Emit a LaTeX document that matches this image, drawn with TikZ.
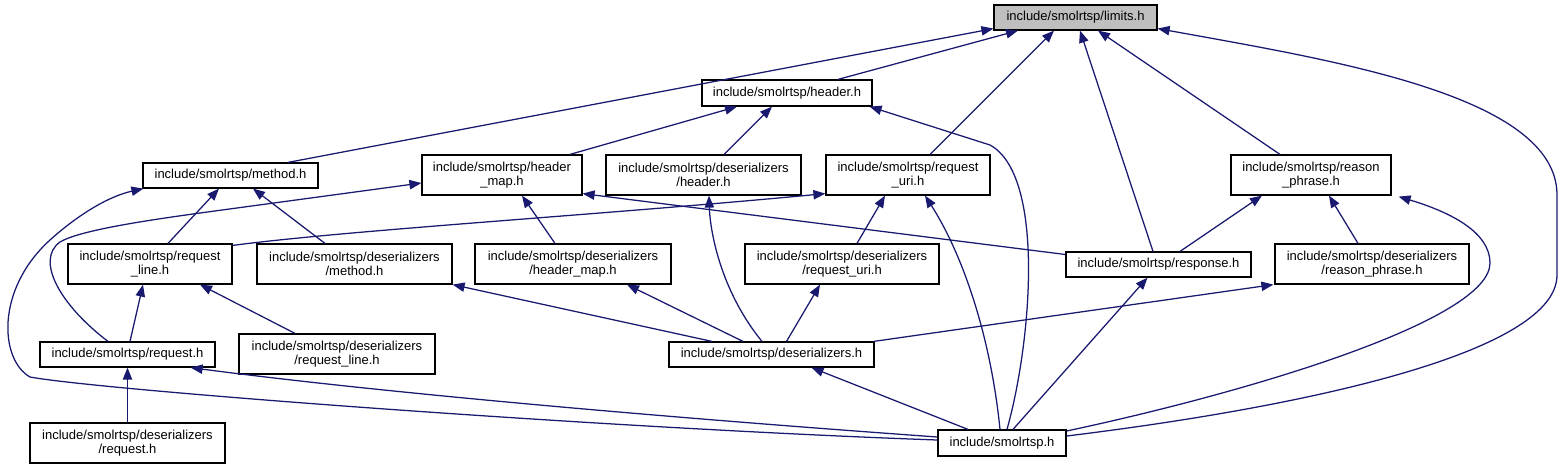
\documentclass[tikz,border=0pt]{standalone}
\usepackage{fontspec}
\setmainfont{Liberation Sans}
\usetikzlibrary{arrows.meta,calc}
\definecolor{edgeblue}{HTML}{191970}
\definecolor{rootgray}{HTML}{BFBFBF}
\begin{document}
\begin{tikzpicture}[x=0.75pt,y=-0.75pt,
  box/.style={draw=black,line width=0.9pt,fill=white,inner sep=0pt,align=center,
    font=\fontsize{9.75}{10.5}\selectfont},
  dep/.style={draw=edgeblue,line width=0.95pt,-{Triangle[length=9pt,width=7pt]}}]
\useasboundingbox (0,0) rectangle (1564,469);
% nodes (centre in px, size in pt = px*0.75)
\node[box,fill=rootgray,minimum width=122.25pt,minimum height=18.75pt] (limits) at (1075.5,17.5) {include/smolrtsp/limits.h};
\node[box,minimum width=127.5pt,minimum height=19.5pt] (header) at (787,93) {include/smolrtsp/header.h};
\node[box,minimum width=131.25pt,minimum height=18.75pt] (method) at (230.5,175.5) {include/smolrtsp/method.h};
\node[box,minimum width=120pt,minimum height=30pt] (hmap) at (502,175) {include/smolrtsp/header\\\_map.h};
\node[box,minimum width=146.25pt,minimum height=30pt] (dheader) at (703.5,175) {include/smolrtsp/deserializers\\/header.h};
\node[box,minimum width=123pt,minimum height=30pt] (ruri) at (908,175) {include/smolrtsp/request\\\_uri.h};
\node[box,minimum width=120pt,minimum height=30pt] (rphrase) at (1311,175) {include/smolrtsp/reason\\\_phrase.h};
\node[box,minimum width=123pt,minimum height=30pt] (rline) at (150,264) {include/smolrtsp/request\\\_line.h};
\node[box,minimum width=146.25pt,minimum height=30pt] (dmethod) at (354.5,264) {include/smolrtsp/deserializers\\/method.h};
\node[box,minimum width=147pt,minimum height=30pt] (dhmap) at (573,264) {include/smolrtsp/deserializers\\/header\_map.h};
\node[box,minimum width=145.5pt,minimum height=30pt] (druri) at (842,264) {include/smolrtsp/deserializers\\/request\_uri.h};
\node[box,minimum width=138.75pt,minimum height=18.75pt] (resp) at (1158.5,264.5) {include/smolrtsp/response.h};
\node[box,minimum width=145.5pt,minimum height=30pt] (drphrase) at (1372,264) {include/smolrtsp/deserializers\\/reason\_phrase.h};
\node[box,minimum width=131.25pt,minimum height=18.75pt] (req) at (127.5,354.5) {include/smolrtsp/request.h};
\node[box,minimum width=147pt,minimum height=30pt] (drline) at (337,354) {include/smolrtsp/deserializers\\/request\_line.h};
\node[box,minimum width=153.75pt,minimum height=18.75pt] (deser) at (771.5,354.5) {include/smolrtsp/deserializers.h};
\node[box,minimum width=146.25pt,minimum height=30pt] (dreq) at (127.5,443) {include/smolrtsp/deserializers\\/request.h};
\node[box,minimum width=96pt,minimum height=19.5pt] (smol) at (1002,443) {include/smolrtsp.h};
% edges to limits
\draw[dep] ($(method.north)+(57.5,0)$) -- ($(limits.south west)+(0,-2)$);
\draw[dep] ($(header.north)+(51,0)$) -- ($(limits.south)+(-57.5,0)$);
\draw[dep] ($(ruri.north)+(22,0)$) -- ($(limits.south)+(-21.5,0)$);
\draw[dep] ($(resp.north)+(-5.5,0)$) -- ($(limits.south)+(4.5,0)$);
\draw[dep] ($(rphrase.north)+(-31,0)$) -- ($(limits.south)+(22.5,0)$);
\draw[dep] ($(smol.east)+(0,-7)$) .. controls (1320,405) and (1557,350) .. (1557,275) -- (1557,195) .. controls (1557,95) and (1330,60) .. ($(limits.east)+(0,11)$);
% edges to header
\draw[dep] ($(hmap.north)+(68,0)$) -- ($(header.south)+(-50,0)$);
\draw[dep] ($(dheader.north)+(20.5,0)$) -- ($(header.south)+(-15,0)$);
\draw[dep] ($(smol.north)+(5,0)$) .. controls (1032,340) and (1045,175) .. (990,145) -- ($(header.south east)+(-3,0)$);
% edges to method
\draw[dep] ($(smol.west)+(0,-3)$) .. controls (600,428) and (100,390) .. (30,377) .. controls (0,360) and (-5,290) .. (50,240) .. controls (80,213) and (110,196) .. ($(method.south west)+(1,0)$);
\draw[dep] ($(rline.north)+(18,0)$) -- ($(method.south)+(-11.5,0)$);
\draw[dep] ($(dmethod.north)+(-29.5,0)$) -- ($(method.south)+(22.5,0)$);
% edges to header_map
\draw[dep] ($(req.north)+(-19.5,0)$) .. controls (60,305) and (35,260) .. (60,242) .. controls (80,230) and (150,220) .. (200,213) -- ($(hmap.west)+(0,8)$);
\draw[dep] ($(resp.west)+(0,-10)$) -- ($(hmap.south east)+(0,-2)$);
\draw[dep] ($(dhmap.north)+(-18,0)$) -- ($(hmap.south)+(20,0)$);
% edges to request_uri
\draw[dep] ($(rline.north east)+(0,2)$) .. controls (350,230) and (600,215) .. ($(ruri.south west)+(0,-2)$);
\draw[dep] ($(druri.north)+(15,0)$) -- ($(ruri.south)+(-23,0)$);
\draw[dep] ($(smol.north)+(-2,0)$) .. controls (990,330) and (960,250) .. ($(ruri.south)+(17,0)$);
% edges to reason_phrase
\draw[dep] ($(resp.north)+(21.5,0)$) -- ($(rphrase.south)+(-49,0)$);
\draw[dep] ($(drphrase.north)+(-14,0)$) -- ($(rphrase.south)+(18,0)$);
\draw[dep] ($(smol.east)+(0,-12)$) .. controls (1250,392) and (1490,320) .. (1490,263) .. controls (1490,232) and (1450,212) .. ($(rphrase.south east)+(7,1)$);
% edges to request_line
\draw[dep] ($(req.north)+(2.5,0)$) -- ($(rline.south)+(-7,0)$);
\draw[dep] ($(drline.north)+(-42,0)$) -- ($(rline.south)+(50,0)$);
% edges to request.h
\draw[dep] (dreq.north) -- (req.south);
\draw[dep] ($(smol.west)+(0,-6)$) .. controls (700,420) and (400,395) .. ($(req.south east)+(-25,0)$);
% edges from deserializers.h
\draw[dep] ($(deser.north)+(-59.5,0)$) -- (dmethod.south east);
\draw[dep] ($(deser.north)+(-28.5,0)$) -- ($(dhmap.south)+(54,0)$);
\draw[dep] ($(deser.north)+(-9.5,0)$) .. controls (720,290) and (710,230) .. ($(dheader.south)+(5.5,0)$);
\draw[dep] ($(deser.north)+(15,0)$) -- ($(druri.south)+(-22,0)$);
\draw[dep] ($(deser.north east)+(-1,0)$) -- ($(drphrase.south west)+(-1,0)$);
% edges from smolrtsp.h
\draw[dep] ($(smol.north)+(-34,0)$) -- ($(deser.south)+(40,0)$);
\draw[dep] ($(smol.north)+(11,0)$) -- ($(resp.south)+(-11,0)$);
\end{tikzpicture}
\end{document}
